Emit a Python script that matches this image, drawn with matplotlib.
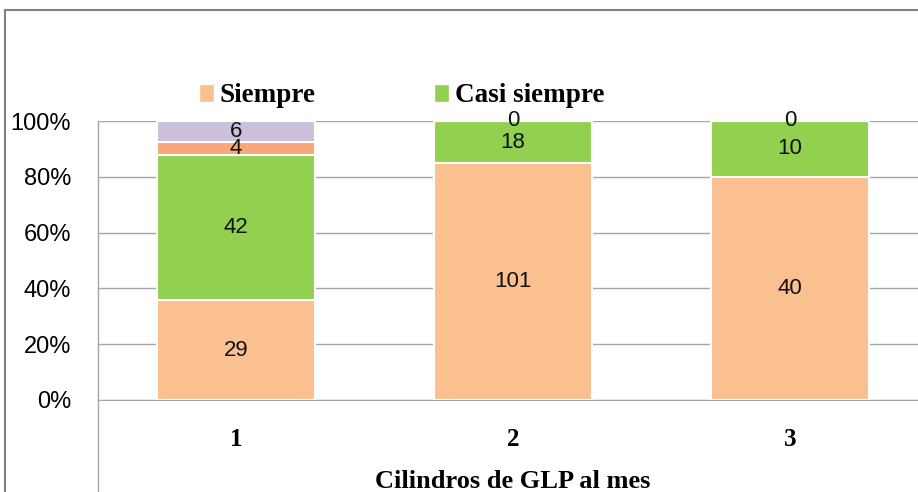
import matplotlib
matplotlib.use("Agg")
import matplotlib.pyplot as plt
from matplotlib.patches import Patch
from matplotlib.lines import Line2D
import numpy as np

categories = ["1", "2", "3"]
siempre = [29, 101, 40]
casi_siempre = [42, 18, 10]
serie3 = [4, 0, 0]
serie4 = [6, 0, 0]
y_ticks = [0, 20, 40, 60, 80, 100]
xlabel = "Cilindros de GLP al mes"

colors = ["#FAC090", "#92D050", "#F8A878", "#CCC1DA"]
series = [siempre, casi_siempre, serie3, serie4]

W, H = 918, 492
fig = plt.figure(figsize=(W / 100, H / 100), dpi=100)
ax = fig.add_axes([97.5 / W, 92 / H, 831 / W, 279 / H])

x = np.arange(len(categories))
totals = np.sum(np.array(series, dtype=float), axis=0)
bottom = np.zeros(len(categories))
for si, (vals, col) in enumerate(zip(series, colors)):
    pct = np.array(vals, dtype=float) / totals * 100
    ax.bar(x, pct, width=0.57, bottom=bottom, color=col, edgecolor="white",
           linewidth=1.5, zorder=3)
    for xi, (v, p, b) in enumerate(zip(vals, pct, bottom)):
        if si == 3 and v == 0:
            continue
        ax.text(xi, b + p / 2, str(v), ha="center", va="center",
                fontsize=16, family="Liberation Sans", color="#111111", zorder=5)
    bottom = bottom + pct

ax.set_xlim(-0.5, 2.5)
ax.set_ylim(0, 100)
ax.set_yticks(y_ticks)
ax.set_yticklabels([f"{t}%" for t in y_ticks], fontsize=17, family="Liberation Sans")
ax.set_xticks(x)
ax.set_xticklabels(categories, fontsize=18, family="Liberation Serif", fontweight="bold")
ax.tick_params(axis="both", length=0)
ax.tick_params(axis="y", pad=19)
ax.tick_params(axis="x", pad=20)
ax.grid(axis="y", color="#A6A6A6", linewidth=1, zorder=0)
for s in ["top", "right", "left"]:
    ax.spines[s].set_visible(False)
ax.spines["bottom"].set_color("#A6A6A6")

ax.set_xlabel(xlabel, fontsize=19, family="Liberation Serif", fontweight="bold", labelpad=14)

# vertical axis divider down to bottom
fig.add_artist(Line2D([97.5 / W, 97.5 / W], [0, 371 / H], color="#A6A6A6", linewidth=1))
# outer chart frame
fig.add_artist(Line2D([5 / W, 5 / W], [0, 1 - 10 / H], color="#808080", linewidth=1.5))
fig.add_artist(Line2D([5 / W, 1], [1 - 10 / H, 1 - 10 / H], color="#808080", linewidth=1.5))

handles = [Patch(facecolor=colors[0], edgecolor="white"), Patch(facecolor=colors[1], edgecolor="white")]
fig.legend(handles, ["Siempre", "Casi siempre"], loc="center left",
           bbox_to_anchor=(199 / W, 1 - 96 / H), ncol=2, frameon=False,
           prop={"family": "Liberation Serif", "weight": "bold", "size": 19.5},
           handlelength=0.55, handleheight=0.6, handletextpad=0.2,
           columnspacing=4.4, borderpad=0, borderaxespad=0)

fig.savefig("out.png", dpi=100)
